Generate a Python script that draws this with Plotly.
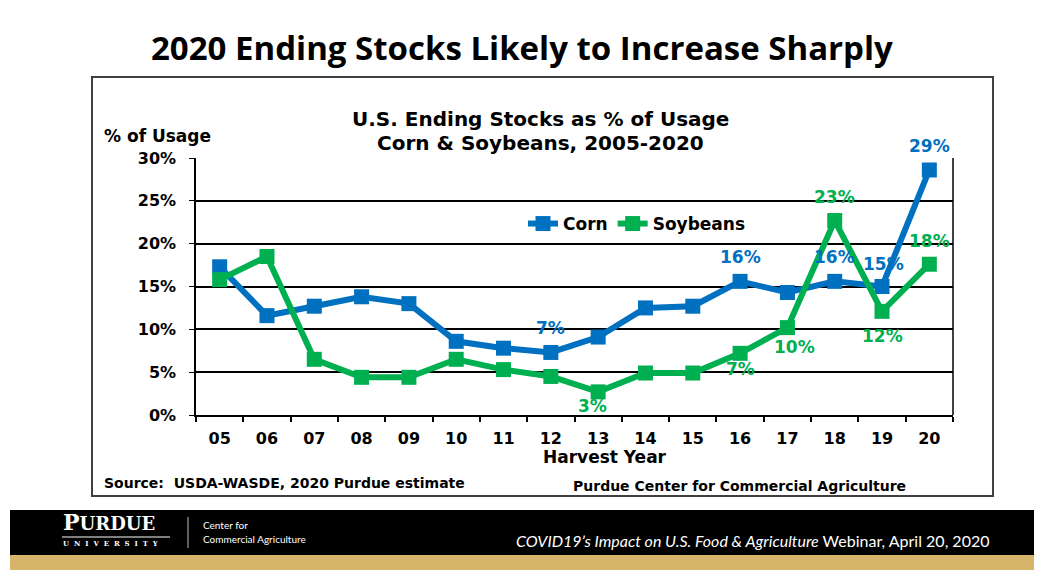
import plotly.graph_objects as go

# ---------------- data ----------------
years = ["05", "06", "07", "08", "09", "10", "11", "12",
         "13", "14", "15", "16", "17", "18", "19", "20"]
corn = [17.3, 11.6, 12.7, 13.8, 13.0, 8.6, 7.8, 7.3,
        9.1, 12.5, 12.7, 15.6, 14.3, 15.6, 15.0, 28.6]
soybeans = [15.8, 18.5, 6.5, 4.4, 4.4, 6.5, 5.3, 4.5,
            2.7, 4.9, 4.9, 7.2, 10.2, 22.7, 12.1, 17.6]
y_tick_values = [0, 5, 10, 15, 20, 25, 30]
y_tick_text = ["0%", "5%", "10%", "15%", "20%", "25%", "30%"]
corn_labeled_years = ["12", "16", "18", "19", "20"]
soy_labeled_years = ["13", "16", "17", "18", "19", "20"]

# ---------------- style ----------------
OFF = 8                      # page body margin
W, H = 1046 - OFF, 579 - OFF
PL, PR, PT, PB = 196, 953, 158, 415  # plot area in window pixels
BLUE = "#0070C0"
GREEN = "#00B050"
GOLD = "#D6B46A"
FONT = "DejaVu Sans"

corn_label_shift = {"12": (0, 24), "16": (0, 24), "18": (0, 24), "19": (1, 23), "20": (0, 24)}
soy_label_shift = {"13": (-6, -14), "16": (0, -16), "17": (7, -19), "18": (0, 24),
                   "19": (0, -25), "20": (0, 23)}


def px_x(x):
    return (x - PL) / (PR - PL)


def px_y(y):
    return (PB - y) / (PB - PT)


fig = go.Figure()
fig.add_trace(go.Scatter(
    x=years, y=corn, name="Corn", mode="lines+markers",
    line=dict(color=BLUE, width=6),
    marker=dict(symbol="square", size=15, color=BLUE),
))
fig.add_trace(go.Scatter(
    x=years, y=soybeans, name="Soybeans", mode="lines+markers",
    line=dict(color=GREEN, width=6),
    marker=dict(symbol="square", size=15, color=GREEN),
))

annotations = []
for yr in corn_labeled_years:
    i = years.index(yr)
    v = corn[i]
    dx, dy = corn_label_shift[yr]
    annotations.append(dict(x=i, y=v, xref="x", yref="y", text=f"<b>{v:.0f}%</b>",
                            showarrow=False, xshift=dx, yshift=dy,
                            font=dict(family=FONT, size=17, color=BLUE)))
for yr in soy_labeled_years:
    i = years.index(yr)
    v = soybeans[i]
    dx, dy = soy_label_shift[yr]
    annotations.append(dict(x=i, y=v, xref="x", yref="y", text=f"<b>{v:.0f}%</b>",
                            showarrow=False, xshift=dx, yshift=dy,
                            font=dict(family=FONT, size=17, color=GREEN)))


def note(text, x, y, size, color="black", family=FONT, xanchor="center", yanchor="middle"):
    annotations.append(dict(text=text, x=px_x(x), y=px_y(y), xref="paper", yref="paper",
                            showarrow=False, xanchor=xanchor, yanchor=yanchor, borderpad=0,
                            font=dict(family=family, size=size, color=color)))


note("<b>2020 Ending Stocks Likely to Increase Sharply</b>", 522, 47, 33, family="Open Sans")
note("<b>U.S. Ending Stocks as % of Usage</b>", 540, 119, 20)
note("<b>Corn &amp; Soybeans, 2005-2020</b>", 540, 143, 20)
note("<b>% of Usage</b>", 103, 136, 17, xanchor="left")
note("<b>Harvest Year</b>", 605, 457, 17)
note("<b>Source:  USDA-WASDE, 2020 Purdue estimate</b>", 103, 483, 14, xanchor="left")
note("<b>Purdue Center for Commercial Agriculture</b>", 572, 486, 14, xanchor="left")
# footer
note("<b><span style='font-size:22px'>P</span>URDUE</b>", 62, 536, 18, color="white",
     family="DejaVu Serif", xanchor="left", yanchor="bottom")
note("<b>" + "&nbsp;&nbsp;".join("UNIVERSITY") + "</b>", 62, 538, 7, color="white",
     family="DejaVu Serif", xanchor="left", yanchor="top")
note("Center for", 202, 525, 10, color="white", family="Lato", xanchor="left")
note("Commercial Agriculture", 202, 539, 10, color="white", family="Lato", xanchor="left")
note("<i>COVID19’s Impact on U.S. Food &amp; Agriculture</i> Webinar, April 20, 2020",
     990, 540, 16, color="white", family="Lato", xanchor="right")

shapes = [
    dict(type="rect", xref="paper", yref="paper", x0=px_x(92), x1=px_x(993), y0=px_y(77), y1=px_y(496),
         line=dict(color="#404040", width=2), fillcolor="rgba(0,0,0,0)", layer="below"),
    dict(type="rect", xref="paper", yref="paper", x0=px_x(10), x1=px_x(1034), y0=px_y(510), y1=px_y(555),
         line=dict(width=0), fillcolor="black"),
    dict(type="rect", xref="paper", yref="paper", x0=px_x(10), x1=px_x(1034), y0=px_y(555), y1=px_y(570),
         line=dict(width=0), fillcolor=GOLD),
    dict(type="line", xref="paper", yref="paper", x0=px_x(62), x1=px_x(170), y0=px_y(537), y1=px_y(537),
         line=dict(color="white", width=1)),
    dict(type="line", xref="paper", yref="paper", x0=px_x(188), x1=px_x(188), y0=px_y(517), y1=px_y(548),
         line=dict(color="#bbbbbb", width=1)),
    # right border of plot area
    dict(type="line", xref="paper", yref="paper", x0=1, x1=1, y0=0, y1=1,
         line=dict(color="black", width=1.5)),
]

fig.update_layout(
    width=W, height=H,
    margin=dict(l=PL - OFF, r=W - (PR - OFF), t=PT - OFF, b=H - (PB - OFF), pad=0),
    paper_bgcolor="white", plot_bgcolor="white",
    showlegend=True,
    legend=dict(orientation="h", x=px_x(523), y=px_y(224), xanchor="left", yanchor="middle",
                font=dict(family=FONT, size=17, color="black", weight="bold"),
                bgcolor="rgba(0,0,0,0)", itemwidth=30, tracegroupgap=0),
    annotations=annotations,
    shapes=shapes,
)
fig.update_xaxes(
    type="category", range=[-0.5, 15.5],
    showline=True, linecolor="black", linewidth=2, mirror=False,
    ticks="outside", ticklen=5, tickcolor="black", tickwidth=1.5, tickson="boundaries",
    tickfont=dict(family=FONT, size=16, color="black", weight="bold"),
    ticklabelstandoff=8, showgrid=False,
)
fig.update_yaxes(
    range=[0, 30], tickvals=y_tick_values, ticktext=y_tick_text,
    showline=True, linecolor="black", linewidth=1.5,
    ticks="outside", ticklen=5, tickcolor="black",
    tickfont=dict(family=FONT, size=16, color="black", weight="bold"),
    ticklabelstandoff=10,
    showgrid=True, gridcolor="black", gridwidth=1.5, zeroline=False,
)

fig.write_html("out.html")
